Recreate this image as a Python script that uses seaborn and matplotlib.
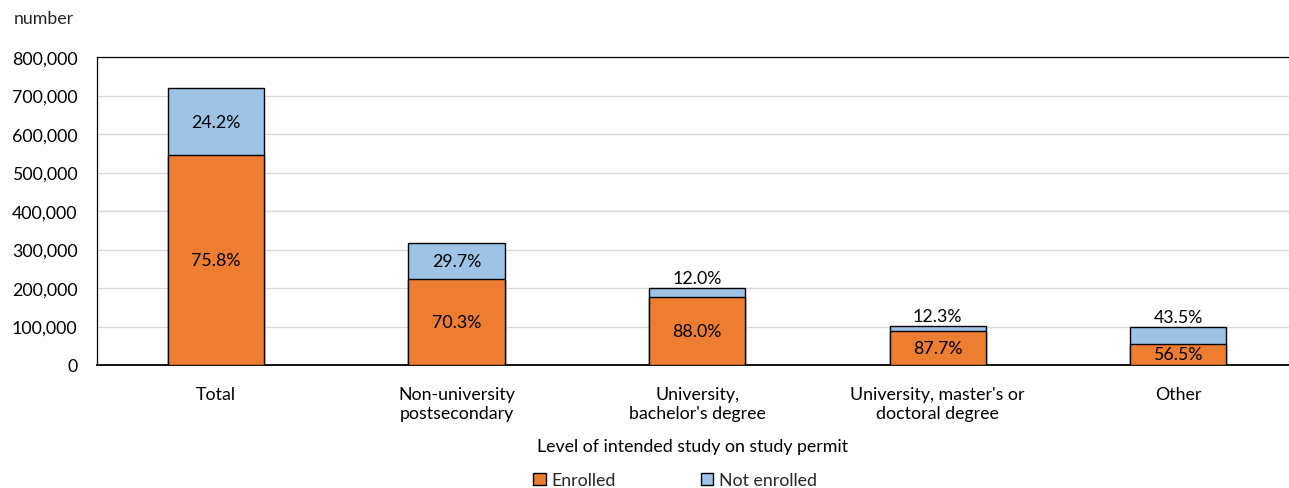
import matplotlib
matplotlib.use("Agg")
import matplotlib.pyplot as plt
import seaborn as sns
import pandas as pd
from matplotlib.ticker import FuncFormatter
from matplotlib.patches import Patch

categories = ["Total", "Non-university\npostsecondary", "University,\nbachelor's degree",
              "University, master's or\ndoctoral degree", "Other"]
enrolled = [544800, 222900, 176000, 88800, 55300]
not_enrolled = [173900, 94100, 24000, 12500, 42600]
yticks = [0, 100000, 200000, 300000, 400000, 500000, 600000, 700000, 800000]

ORANGE = "#ED7D31"
BLUE = "#9DC3E6"

sns.set_theme(style="white")
plt.rcParams['font.family'] = ['Lato', 'DejaVu Sans']

totals = [e + n for e, n in zip(enrolled, not_enrolled)]
df = pd.DataFrame({"cat": categories, "enrolled": enrolled, "total": totals,
                   "not": not_enrolled})

fig = plt.figure(figsize=(12.89, 4.89), dpi=100)
ax = fig.add_axes([97/1289, 1-366/489, 1-97/1289, (366-58)/489])

sns.barplot(data=df, x="cat", y="total", color=BLUE, width=0.40, edgecolor="black",
            linewidth=1.0, saturation=1, ax=ax, zorder=3)
sns.barplot(data=df, x="cat", y="enrolled", color=ORANGE, width=0.40, edgecolor="black",
            linewidth=1.0, saturation=1, ax=ax, zorder=4)

fs = 12.8
for i, (e, n, t) in enumerate(zip(enrolled, not_enrolled, totals)):
    ax.text(i, e / 2, f"{e / t * 100:.1f}%", ha="center", va="center", fontsize=fs,
            color="black", zorder=5)
    if n > 60000:
        ax.text(i, e + n / 2, f"{n / t * 100:.1f}%", ha="center", va="center",
                fontsize=fs, color="black", zorder=5)
    else:
        ax.text(i, t + 26000, f"{n / t * 100:.1f}%", ha="center", va="center",
                fontsize=fs, color="black", zorder=5)

ax.set_ylim(0, 800000)
ax.set_xlim(-0.495, 4.461)
ax.set_yticks(yticks)
ax.yaxis.set_major_formatter(FuncFormatter(lambda v, p: f"{int(v):,}"))
ax.grid(axis="y", color="#D9D9D9", linewidth=1.0, zorder=0)
ax.set_axisbelow(True)
ax.tick_params(axis="both", length=0, labelsize=fs, colors="black")
ax.tick_params(axis="x", pad=15)
ax.tick_params(axis="y", pad=14)
for lab in ax.get_xticklabels():
    lab.set_linespacing(1.25)
for s in ["left", "top"]:
    ax.spines[s].set_visible(True)
    ax.spines[s].set_color("black")
    ax.spines[s].set_linewidth(0.9)
ax.spines["right"].set_visible(False)
ax.spines["bottom"].set_color("black")
ax.spines["bottom"].set_linewidth(1.3)
ax.set_ylabel("")
ax.set_xlabel("Level of intended study on study permit", fontsize=fs, color="black",
              labelpad=12)

fig.text(14/1289, 1-19/489, "number", fontsize=fs, ha="left", va="center")

handles = [Patch(facecolor=ORANGE, edgecolor="black", linewidth=1.0, label="Enrolled"),
           Patch(facecolor=BLUE, edgecolor="black", linewidth=1.0, label="Not enrolled")]
fig.legend(handles=handles, loc="center", bbox_to_anchor=(675/1289, 1-481/489), ncol=2,
           frameon=False, fontsize=fs, handlelength=0.7, handleheight=0.7,
           handletextpad=0.3, columnspacing=4.8)

fig.savefig("out.png", dpi=100)
